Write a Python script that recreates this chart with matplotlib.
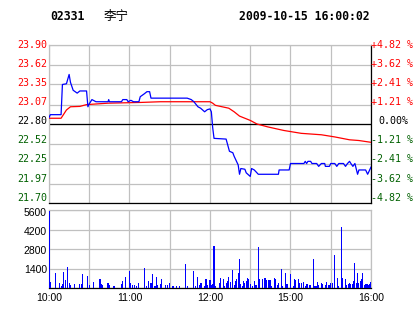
import matplotlib
matplotlib.use("Agg")
import matplotlib.pyplot as plt

# --- data -------------------------------------------------------------
code = "02331"
name = "李宁"
stamp = "2009-10-15 16:00:02"
prev_close = 22.80

price_levels = [21.70, 21.97, 22.25, 22.52, 22.80, 23.07, 23.35, 23.62, 23.90]
pct_labels = ["-4.82 %", "-3.62 %", "-2.41 %", "-1.21 %", "0.00%",
              "+1.21 %", "+2.41 %", "+3.62 %", "+4.82 %"]

# trading minutes from 10:00 (0..240, lunch break removed)
time_ticks = [0, 60, 120, 180, 240]
time_labels = ["10:00", "11:00", "12:00", "15:00", "16:00"]

price_t = [0, 1, 9, 10, 13, 15, 16, 18, 21, 23, 28, 29, 30, 32, 35, 44, 44.5, 45,
           54, 55, 58, 59, 61, 63, 67, 68, 71, 73, 75, 76, 103, 106, 108, 111,
           113, 116, 118, 120, 121, 122, 123, 132, 134.5, 137, 138, 141, 142,
           143, 146, 147, 150, 151, 153, 156, 171, 171.5, 179, 180, 190, 191,
           192, 193, 195, 196, 199.5, 201, 203, 205.5, 206, 209, 210, 213,
           214.5, 216, 219.5, 221, 222.5, 224, 225, 226.5, 228, 230, 231, 236,
           237.5, 239, 240]
price = [22.89, 22.93, 22.93, 23.35, 23.36, 23.49, 23.38, 23.27, 23.23, 23.26,
         23.26, 23.04, 23.08, 23.14, 23.11, 23.11, 23.14, 23.11, 23.11, 23.14,
         23.14, 23.11, 23.13, 23.11, 23.11, 23.18, 23.22, 23.25, 23.25, 23.16,
         23.16, 23.14, 23.11, 23.04, 23.02, 22.97, 23.00, 23.01, 22.97, 22.75,
         22.60, 22.59, 22.42, 22.40, 22.35, 22.23, 22.10, 22.18, 22.17, 22.12,
         22.07, 22.18, 22.16, 22.10, 22.10, 22.16, 22.16, 22.25, 22.25, 22.28,
         22.25, 22.28, 22.28, 22.25, 22.25, 22.21, 22.25, 22.25, 22.21, 22.21,
         22.25, 22.25, 22.21, 22.25, 22.25, 22.21, 22.25, 22.28, 22.25, 22.21,
         22.25, 22.10, 22.16, 22.16, 22.10, 22.16, 22.20]

avg_t = [0, 9, 13, 16, 23, 28, 44, 68, 83, 120, 122, 124, 134, 138, 142, 150,
         155, 163, 175, 188, 203, 213, 224, 231, 240]
avg = [22.88, 22.88, 22.995, 23.04, 23.045, 23.07, 23.09, 23.10, 23.11, 23.11,
       23.09, 23.06, 23.02, 22.97, 22.91, 22.85, 22.80, 22.76, 22.71, 22.67,
       22.65, 22.62, 22.58, 22.57, 22.545]

vol_t = [0, 1, 5, 8, 9, 10, 11, 12, 14, 15, 16, 19, 23, 24, 25, 29, 30, 33, 38,
         39, 40, 44, 45, 48, 49, 54, 55, 57, 60, 61, 62, 64, 65, 67, 71, 73, 74,
         76, 77, 79, 80, 81, 83, 84, 87, 88, 90, 92, 93, 95, 97, 102, 103, 108,
         109, 111, 112, 113, 114, 116, 117, 118, 120, 121, 122, 123, 124, 127,
         128, 130, 131, 132, 133, 134, 135, 137, 138, 139, 140, 141, 142, 143,
         144, 145, 146, 147, 148, 149, 150, 152, 153, 154, 155, 156, 157, 159,
         161, 162, 164, 165, 166, 168, 169, 170, 171, 173, 174, 176, 177, 178,
         180, 182, 183, 184, 186, 187, 188, 190, 191, 192, 193, 194, 195, 197,
         198, 199, 200, 201, 203, 204, 206, 207, 208, 209, 210, 211, 213, 215,
         216, 218, 219, 221, 222, 223, 224, 225, 226, 227, 228, 229, 230, 231,
         232, 233, 234, 235, 236, 237, 238, 239, 240]
vol = [5500, 425, 1060, 354, 165, 307, 1130, 590, 1510, 354, 236, 307, 307, 307,
       1015, 873, 236, 425, 660, 307, 236, 378, 236, 165, 165, 307, 472, 755,
       1250, 354, 236, 236, 165, 378, 1460, 165, 520, 378, 1015, 165, 800, 236,
       307, 660, 236, 236, 378, 165, 165, 165, 165, 1720, 165, 1230, 165, 800,
       236, 378, 378, 165, 660, 236, 590, 236, 307, 3000, 165, 354, 730, 660,
       165, 378, 520, 800, 450, 1300, 236, 520, 660, 1060, 2080, 307, 165, 500,
       378, 520, 730, 660, 307, 165, 520, 236, 236, 2930, 660, 660, 730, 590,
       590, 590, 165, 730, 660, 236, 378, 1370, 165, 1085, 307, 307, 1015, 165,
       660, 590, 660, 378, 378, 450, 165, 307, 307, 236, 236, 2080, 165, 165,
       450, 236, 378, 307, 236, 425, 236, 236, 378, 378, 2360, 730, 165, 4390,
       730, 660, 236, 307, 378, 307, 307, 520, 1770, 378, 1085, 378, 520, 660,
       1085, 236, 307, 307, 236, 307, 425]

vol_levels = [1400, 2800, 4200, 5600]

# --- colours / fonts --------------------------------------------------
RED = "#FF0000"
GREEN = "#006000"
BLUE = "#0000FF"
GRID = "#C0C0C0"
mono = "DejaVu Sans Mono"
sans = "Liberation Sans"

W, H = 414, 314
fig = plt.figure(figsize=(W / 100, H / 100), dpi=100)
fig.patch.set_facecolor("white")

def box(l, t, r, b):
    return [l / W, 1 - b / H, (r - l) / W, (b - t) / H]

def px(x, y):
    return x / W, 1 - y / H

# header
fig.text(*px(50, 16.5), code, fontsize=8.3, family=mono,
         weight="bold", va="center", ha="left")
fig.text(*px(104, 16.5), name, fontsize=9, family=["Noto Sans CJK SC", "DejaVu Sans"],
         va="center", ha="left")
fig.text(*px(370, 16.5), stamp, fontsize=8.3, family=mono,
         weight="bold", va="center", ha="right")

# --- price panel ------------------------------------------------------
ax = fig.add_axes(box(49, 45, 371, 203))
ax.set_xlim(0, 240)
ax.set_ylim(price_levels[0], price_levels[-1])
ax.set_xticks(range(0, 241, 30))
ax.set_yticks(price_levels)
ax.grid(True, color=GRID, lw=0.9)
ax.set_axisbelow(True)
ax.tick_params(length=0, labelbottom=False, labelleft=False)

for s in ["left", "top"]:
    ax.spines[s].set_color(GRID)
for s in ["right", "bottom"]:
    ax.spines[s].set_color("black")
for s in ax.spines.values():
    s.set_linewidth(0.9)

ax.axhline(prev_close, color="black", lw=0.9, zorder=2)
ax.plot(avg_t, avg, color=RED, lw=0.9, zorder=3)
ax.plot(price_t, price, color=BLUE, lw=0.9, zorder=4)

# side labels sit on an evenly spaced column, a bit tighter than the grid
n = len(price_levels)
for i, (v, lab) in enumerate(zip(price_levels, pct_labels)):
    y = 197.7 - i * (197.7 - 44.7) / (n - 1)
    c = RED if v > prev_close + 1e-6 else (GREEN if v < prev_close - 1e-6 else "black")
    fig.text(*px(47, y), f"{v:.2f}", color=c, family=mono, fontsize=7.2,
             va="center", ha="right")
    xr = 371 if lab != "0.00%" else 378
    fig.text(*px(xr, y), lab, color=c, family=mono, fontsize=7.2,
             va="center", ha="left")

# --- volume panel -----------------------------------------------------
axv = fig.add_axes(box(49, 210, 371, 288))
axv.set_xlim(0, 240)
axv.set_ylim(0, 5600)
axv.set_xticks(range(0, 241, 30))
axv.set_yticks([0] + vol_levels)
axv.grid(True, color=GRID, lw=0.9)
axv.set_axisbelow(True)
axv.bar(vol_t, vol, width=0.8, color=BLUE, lw=0, align="center", zorder=3)
axv.tick_params(length=0, labelleft=False, labelbottom=False)
for s in ["left", "top", "right"]:
    axv.spines[s].set_color(GRID)
axv.spines["bottom"].set_color("black")
for s in axv.spines.values():
    s.set_linewidth(0.9)

for v, y in zip(vol_levels, [270, 250.5, 232, 213]):
    fig.text(*px(47, y), str(v), family=sans, fontsize=7.5, va="center", ha="right")
for t, lab in zip(time_ticks, time_labels):
    fig.text(*px(49 + t * 322 / 240, 298), lab, family=sans, fontsize=7.5,
             va="center", ha="center")

fig.savefig("out.png", dpi=100)
